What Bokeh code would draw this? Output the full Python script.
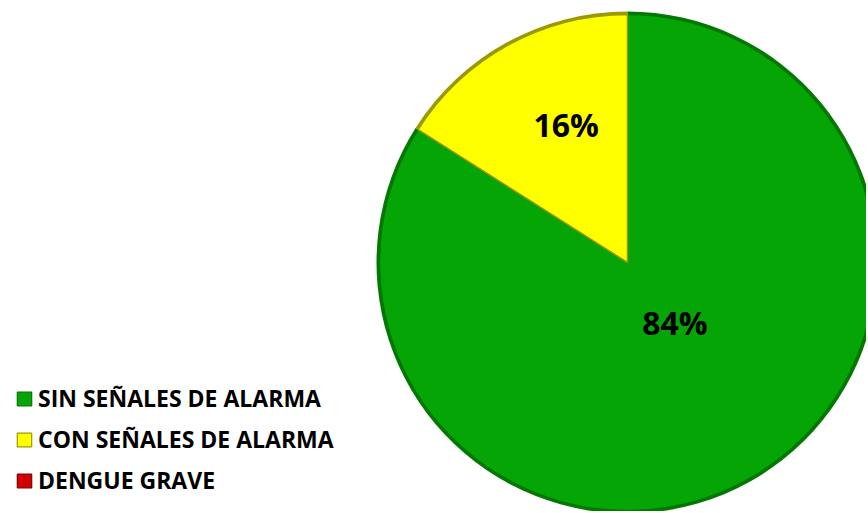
import math
from bokeh.plotting import figure
from bokeh.models import ColumnDataSource, Legend, LegendItem, Range1d, CDSView, IndexFilter
from bokeh.core.properties import value
from bokeh.embed import file_html
from bokeh.resources import INLINE

# ---- data ----
categories = ["SIN SEÑALES DE ALARMA", "CON SEÑALES DE ALARMA", "DENGUE GRAVE"]
percentages = [84, 16, 0]
colors = ["#05A505", "#FFFF00", "#D00000"]
edge_colors = ["#037803", "#9A9A00", "#800000"]

# ---- layout constants ----
W, H = 866, 511
CX, CY = 627, 249
R = 251
label_frac = [0.31, 0.59, 0.6]

total = sum(percentages)
starts, ends, lx, ly, ltxt = [], [], [], [], []
acc = 0.0
for v, f in zip(percentages, label_frac):
    a0 = math.pi / 2 - 2 * math.pi * acc / total
    a1 = math.pi / 2 - 2 * math.pi * (acc + v) / total
    starts.append(a0)
    ends.append(a1)
    mid = (a0 + a1) / 2
    lx.append(CX + f * R * math.cos(mid))
    ly.append(CY + f * R * math.sin(mid))
    ltxt.append(f"{v}%" if v > 0 else "")
    acc += v

src = ColumnDataSource(dict(cat=categories, start=starts, end=ends, color=colors,
                            edge=edge_colors, x=[CX] * 3, y=[CY] * 3,
                            lx=lx, ly=ly, txt=ltxt))
nonzero = CDSView(filter=IndexFilter([i for i, v in enumerate(percentages) if v > 0]))

p = figure(width=W, height=H, output_backend="svg", toolbar_location=None,
           x_range=Range1d(0, W), y_range=Range1d(0, H), min_border=0)
p.axis.visible = False
p.grid.visible = False
p.outline_line_color = None
p.background_fill_color = "white"

# zero-size swatch renderer used only for the legend (hidden under the pie)
sw = p.rect(x="x", y="y", width=0, height=0, fill_color="color", line_color="edge",
            line_width=1.2, source=src)

# rim (bevel shadow)
p.wedge(x="x", y="y", radius=R, start_angle="start", end_angle="end",
        direction="clock", fill_color="edge", line_color=None, source=src, view=nonzero)
p.wedge(x="x", y="y", radius=R - 3, start_angle="start", end_angle="end",
        direction="clock", fill_color="color", line_color="edge",
        line_width=1.5, source=src, view=nonzero)

p.text(x="lx", y="ly", text="txt", source=src, text_align="center",
       text_baseline="middle", text_font=value("Open Sans"),
       text_font_style="bold", text_font_size="32px", text_color="black",
       x_offset=10, y_offset=-8)

items = [LegendItem(label=c, renderers=[sw], index=i) for i, c in enumerate(categories)]
legend = Legend(items=items, location=(15, 15), orientation="vertical",
                glyph_width=18, glyph_height=17, label_height=17, spacing=9,
                label_standoff=5, padding=0, margin=0, border_line_color=None,
                background_fill_alpha=0,
                label_text_font="Open Sans", label_text_font_style="bold",
                label_text_font_size="23px", label_text_color="black")
p.add_layout(legend)

open("out.html", "w").write(file_html(p, INLINE))
